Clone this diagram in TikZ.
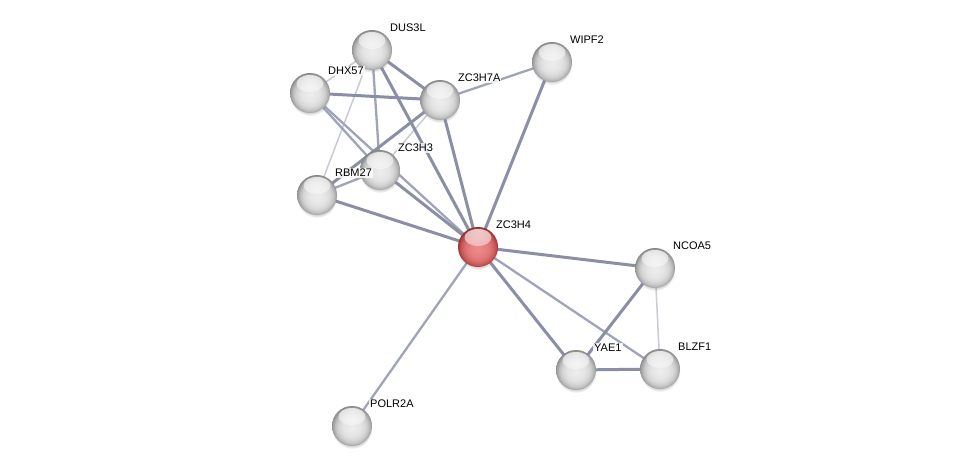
\documentclass[tikz,border=0pt]{standalone}
\usepackage{fontspec}
\setmainfont{Liberation Sans}
\usetikzlibrary{shadows,fadings}
\pgfdeclareradialshading{greysphere}{\pgfpoint{0bp}{-2bp}}{%
  color(0bp)=(white!93!black);
  color(10bp)=(white!90!black);
  color(15bp)=(white!86!black);
  color(19bp)=(white!80!black);
  color(22bp)=(white!71!black);
  color(24.5bp)=(white!60!black);
  color(26bp)=(white!52!black);
  color(50bp)=(white!52!black)}
\pgfdeclareradialshading{redsphere}{\pgfpoint{0bp}{-2bp}}{%
  color(0bp)=(rgb,255:red,236;green,138;blue,138);
  color(10bp)=(rgb,255:red,230;green,128;blue,128);
  color(15bp)=(rgb,255:red,222;green,116;blue,116);
  color(19bp)=(rgb,255:red,208;green,100;blue,100);
  color(22bp)=(rgb,255:red,190;green,80;blue,80);
  color(24.5bp)=(rgb,255:red,166;green,58;blue,58);
  color(26bp)=(rgb,255:red,145;green,45;blue,45);
  color(50bp)=(rgb,255:red,145;green,45;blue,45)}
\tikzfading[name=hlfade, top color=transparent!25, bottom color=transparent!100]
\begin{document}
\begin{tikzpicture}[x=1pt,y=-1pt,
  prot/.style={circle,minimum size=40pt,inner sep=0pt,shading=greysphere,
    circular drop shadow={shadow xshift=0pt,shadow yshift=-2.5pt,opacity=0.3,shadow scale=1.02},
    path picture={\fill[white,path fading=hlfade] ([yshift=9.5pt]path picture bounding box.center) ellipse (13.5 and 8.5);}},
  query/.style={prot,shading=redsphere},
  lbl/.style={anchor=west,font=\fontsize{11pt}{12pt}\selectfont,inner sep=1pt,fill=white,fill opacity=0.8,text opacity=1},
  strong/.style={line width=3pt,draw={rgb,255:red,138;green,143;blue,166}},
  medium/.style={line width=2.3pt,draw={rgb,255:red,160;green,164;blue,184}},
  weak/.style={line width=1.5pt,draw={rgb,255:red,200;green,202;blue,214}}]
\useasboundingbox (0,0) rectangle (975,472);
\fill[white] (0,0) rectangle (975,472);
% coordinates
\coordinate (cDUS) at (372,50);
\coordinate (cWIP) at (552,62);
\coordinate (cDHX) at (310,93);
\coordinate (cZ7A) at (440,100);
\coordinate (cZ3) at (380,170);
\coordinate (cRBM) at (317,195);
\coordinate (cZ4) at (478,247);
\coordinate (cNCO) at (655,268);
\coordinate (cYAE) at (576,370);
\coordinate (cBLZ) at (660,369);
\coordinate (cPOL) at (352,426);
% edges
\draw[weak] (cDUS) -- (cDHX);
\draw[weak] (cDUS) -- (cRBM);
\draw[weak] (cNCO) -- (cBLZ);
\draw[weak] (cZ7A) -- (cZ3);
\draw[medium] (cDHX) -- (cZ3);
\draw[medium] (cDHX) -- (cZ4);
\draw[medium] (cDUS) -- (cZ3);
\draw[medium] (cZ7A) -- (cWIP);
\draw[medium] (cZ4) -- (cBLZ);
\draw[medium] (cZ4) -- (cPOL);
\draw[medium] (cRBM) -- (cZ3);
\draw[strong] (cDUS) -- (cZ7A);
\draw[strong] (cDUS) -- (cZ4);
\draw[strong] (cDHX) -- (cZ7A);
\draw[strong] (cWIP) -- (cZ4);
\draw[strong] (cZ7A) -- (cZ4);
\draw[strong] (cZ7A) -- (cRBM);
\draw[strong] (cZ3) -- (cZ4);
\draw[strong] (cRBM) -- (cZ4);
\draw[strong] (cZ4) -- (cNCO);
\draw[strong] (cZ4) -- (cYAE);
\draw[strong] (cNCO) -- (cYAE);
\draw[strong] (cYAE) -- (cBLZ);
% nodes
\node[prot] (DUS) at (cDUS) {};
\node[prot] (WIP) at (cWIP) {};
\node[prot] (DHX) at (cDHX) {};
\node[prot] (Z7A) at (cZ7A) {};
\node[prot] (Z3) at (cZ3) {};
\node[prot] (RBM) at (cRBM) {};
\node[query] (Z4) at (cZ4) {};
\node[prot] (NCO) at (cNCO) {};
\node[prot] (YAE) at (cYAE) {};
\node[prot] (BLZ) at (cBLZ) {};
\node[prot] (POL) at (cPOL) {};
% labels
\node[lbl] (lDUS) at ([shift={(17,-22)}]cDUS) {DUS3L};
\node[lbl] (lWIP) at ([shift={(17,-22)}]cWIP) {WIPF2};
\node[lbl] (lDHX) at ([shift={(17,-22)}]cDHX) {DHX57};
\node[lbl] (lZ7A) at ([shift={(17,-22)}]cZ7A) {ZC3H7A};
\node[lbl] (lZ3) at ([shift={(17,-22)}]cZ3) {ZC3H3};
\node[lbl] (lRBM) at ([shift={(17,-22)}]cRBM) {RBM27};
\node[lbl] (lZ4) at ([shift={(17,-22)}]cZ4) {ZC3H4};
\node[lbl] (lNCO) at ([shift={(17,-22)}]cNCO) {NCOA5};
\node[lbl] (lYAE) at ([shift={(17,-22)}]cYAE) {YAE1};
\node[lbl] (lBLZ) at ([shift={(17,-22)}]cBLZ) {BLZF1};
\node[lbl] (lPOL) at ([shift={(17,-22)}]cPOL) {POLR2A};
\end{tikzpicture}
\end{document}
